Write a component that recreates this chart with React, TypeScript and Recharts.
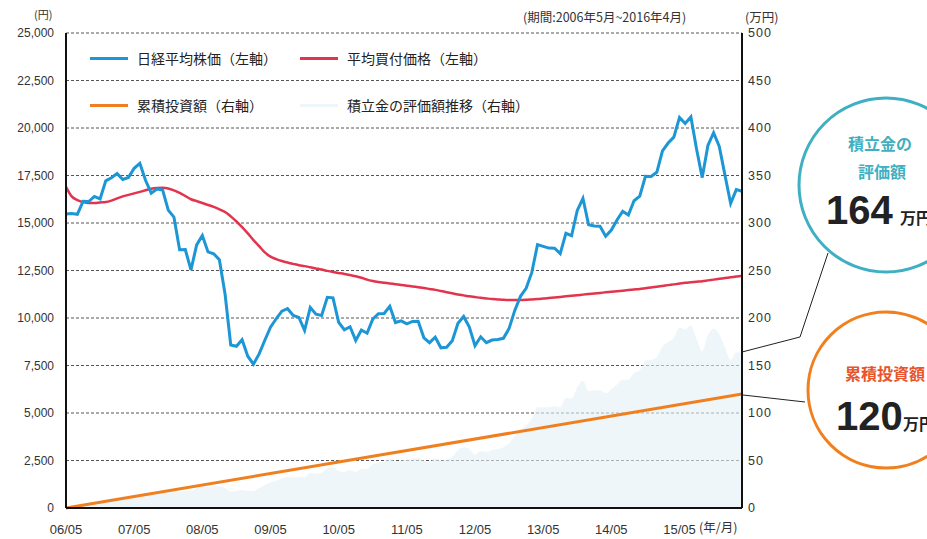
import React from "react";
import { ComposedChart, Line, Area, XAxis, YAxis, CartesianGrid } from "recharts";

// 2006/05 ~ 2016/04, monthly
const months: string[] = [];
for (let y = 6; y <= 16; y++) {
  for (let m = 1; m <= 12; m++) {
    if ((y === 6 && m < 5) || (y === 16 && m > 4)) continue;
    months.push(`${String(y).padStart(2, "0")}/${String(m).padStart(2, "0")}`);
  }
}

const xTicks = ["06/05", "07/05", "08/05", "09/05", "10/05", "11/05", "12/05", "13/05", "14/05", "15/05"];
const leftTicks = [0, 2500, 5000, 7500, 10000, 12500, 15000, 17500, 20000, 22500, 25000];
const rightTicks = [0, 50, 100, 150, 200, 250, 300, 350, 400, 450, 500];

// 日経平均株価 (円)
const nikkei = [
  15470, 15500, 15460, 16140, 16130, 16400, 16270, 17220,
  17380, 17600, 17290, 17400, 17880, 18140, 17250, 16570, 16790, 16740, 15680, 15310,
  13590, 13600, 12530, 13850, 14340, 13480, 13380, 13070, 11260, 8580, 8510, 8860,
  7990, 7570, 8110, 8830, 9520, 9960, 10360, 10490, 10130, 10030, 9350, 10550,
  10200, 10130, 11090, 11060, 9770, 9380, 9540, 8820, 9370, 9200, 9940, 10230,
  10240, 10620, 9760, 9850, 9690, 9820, 9830, 8960, 8700, 8990, 8430, 8460,
  8800, 9720, 10080, 9520, 8540, 9010, 8700, 8840, 8870, 8930, 9450, 10400,
  11140, 11560, 12400, 13860, 13770, 13680, 13670, 13390, 14460, 14330, 15660, 16290,
  14910, 14840, 14830, 14300, 14630, 15160, 15620, 15420, 16170, 16410, 17460, 17450,
  17670, 18800, 19210, 19520, 20560, 20240, 20590, 18890, 17390, 19080, 19750, 19030,
  17520, 16030, 16760, 16670,
];

// 平均買付価格 (円)
const avgPrice = [
  16900, 16400, 16200, 16100, 16050, 16050, 16080, 16100, 16180, 16300, 16400, 16480,
  16560, 16640, 16720, 16800, 16840, 16850, 16820, 16720, 16580, 16420, 16250, 16150,
  16050, 15950, 15850, 15720, 15580, 15350, 15080, 14780, 14450, 14100, 13780, 13450,
  13230, 13100, 13000, 12920, 12850, 12780, 12730, 12670, 12610, 12550, 12480, 12420,
  12370, 12320, 12260, 12200, 12120, 12020, 11950, 11900, 11860, 11820, 11780, 11740,
  11700, 11660, 11620, 11580, 11530, 11480, 11420, 11360, 11300, 11240, 11190, 11140,
  11100, 11060, 11030, 11000, 10980, 10960, 10950, 10950, 10950, 10960, 10980, 11000,
  11020, 11050, 11080, 11110, 11140, 11170, 11200, 11230, 11260, 11290, 11320, 11350,
  11380, 11410, 11440, 11470, 11500, 11530, 11570, 11610, 11650, 11690, 11730, 11770,
  11810, 11850, 11880, 11910, 11940, 11980, 12020, 12060, 12100, 12140, 12180, 12220,
];

// 積立金の評価額 (万円)
const valuation = [
  1, 2, 3, 4, 5, 6, 7, 9, 10, 11, 12, 13,
  14, 15, 16, 16, 17, 18, 18, 18, 17, 18, 18, 21,
  22, 22, 23, 23, 21, 17, 18, 19, 18, 18, 21, 24,
  27, 29, 31, 33, 32, 33, 32, 37, 36, 37, 42, 43,
  39, 38, 40, 38, 41, 41, 46, 48, 49, 52, 49, 50,
  51, 52, 53, 50, 49, 52, 50, 51, 54, 61, 64, 62,
  56, 60, 59, 61, 62, 64, 68, 76, 82, 87, 94, 106,
  106, 106, 107, 106, 116, 115, 127, 134, 123, 124, 124, 121,
  125, 130, 135, 135, 142, 145, 155, 156, 159, 170, 175, 179,
  190, 188, 192, 178, 165, 182, 189, 183, 169, 156, 164, 164,
];

// 累積投資額 (万円): start and end of the period
const investStart = 0;
const investEnd = 120;

const data = months.map((month, i) => ({
  month,
  nikkei: nikkei[i],
  avg: avgPrice[i],
  value: valuation[i],
  invest: i === 0 ? investStart : i === months.length - 1 ? investEnd : null,
}));

const BLUE = "#1d96d6";
const RED = "#e2344c";
const ORANGE = "#f0801f";
const PALE = "#e3f0f6";
const TEAL = "#3fb0c2";
const JP = '"Noto Sans CJK JP", sans-serif';
const NUM = '"Liberation Sans", Arial, sans-serif';

const legendRows = [
  [
    { label: "日経平均株価（左軸）", color: BLUE },
    { label: "平均買付価格（左軸）", color: RED },
  ],
  [
    { label: "累積投資額（右軸）", color: ORANGE },
    { label: "積立金の評価額推移（右軸）", color: "#eef6fa" },
  ],
];

const ChartLegend = () => (
  <div style={{ position: "absolute", left: 90, top: 46, fontFamily: JP, fontSize: 14, color: "#222" }}>
    {legendRows.map((row, r) => (
      <div key={r} style={{ display: "flex", height: 24, alignItems: "center", marginBottom: r === 0 ? 23 : 0 }}>
        {row.map((item, k) => (
          <div key={k} style={{ display: "flex", alignItems: "center", width: k === 0 ? 210 : 260 }}>
            <span style={{ display: "inline-block", width: 38, height: 3, background: item.color, marginRight: 9 }} />
            <span>{item.label}</span>
          </div>
        ))}
      </div>
    ))}
  </div>
);

export default function App() {
  return (
    <div style={{ position: "absolute", left: 0, top: 0, width: 927, height: 539, background: "#fff", overflow: "hidden" }}>
      <ComposedChart width={927} height={539} data={data} margin={{ top: 33, right: 125, bottom: 1, left: 0 }}>
        <CartesianGrid yAxisId="left" vertical={false} stroke="#555" strokeDasharray="3 2" />
        <XAxis
          dataKey="month"
          ticks={xTicks}
          interval={0}
          height={30}
          tickLine={false}
          tickSize={6}
          tickMargin={11}
          axisLine={{ stroke: "#111", strokeWidth: 2 }}
          tick={{ fontSize: 13, fill: "#333", fontFamily: NUM }}
        />
        <YAxis
          yAxisId="left"
          domain={[0, 25000]}
          ticks={leftTicks}
          width={66}
          tickLine={false}
          tickSize={6}
          tickMargin={6}
          axisLine={{ stroke: "#111", strokeWidth: 2 }}
          tickFormatter={(v: number) => v.toLocaleString("en-US")}
          tick={{ fontSize: 12, fill: "#333", fontFamily: NUM }}
        />
        <YAxis
          yAxisId="right"
          orientation="right"
          domain={[0, 500]}
          ticks={rightTicks}
          width={60}
          tickLine={false}
          tickSize={4}
          tickMargin={2}
          axisLine={{ stroke: "#111", strokeWidth: 2 }}
          tick={{ fontSize: 12.5, fill: "#333", fontFamily: NUM, letterSpacing: 1 }}
        />
        <Area
          yAxisId="right"
          dataKey="value"
          type="monotone"
          stroke="none"
          fill={PALE}
          fillOpacity={0.6}
          isAnimationActive={false}
          dot={false}
          activeDot={false}
        />
        <Line
          yAxisId="right"
          dataKey="invest"
          stroke={ORANGE}
          strokeWidth={3}
          connectNulls
          dot={false}
          isAnimationActive={false}
        />
        <Line
          yAxisId="left"
          dataKey="avg"
          type="monotone"
          stroke={RED}
          strokeWidth={2.5}
          dot={false}
          isAnimationActive={false}
        />
        <Line
          yAxisId="left"
          dataKey="nikkei"
          stroke={BLUE}
          strokeWidth={3}
          dot={false}
          isAnimationActive={false}
        />
      </ComposedChart>
      <ChartLegend />
      <svg width={927} height={539} style={{ position: "absolute", left: 0, top: 0, pointerEvents: "none" }}>
        <text x={34} y={19} fontSize={11} fill="#333" fontFamily={JP}>(円)</text>
        <text x={523} y={22} fontSize={12.5} fill="#333" fontFamily={JP}>(期間:2006年5月~2016年4月)</text>
        <text x={745} y={22} fontSize={12.5} fill="#333" fontFamily={JP}>(万円)</text>
        <text x={699} y={532} fontSize={12.5} fill="#333" fontFamily={JP}>(年/月)</text>

        <polyline points="742,352 800,337 828,253" fill="none" stroke="#222" strokeWidth={1} />
        <polyline points="743,395 805,402" fill="none" stroke="#222" strokeWidth={1} />

        <circle cx={886} cy={185} r={87} fill="#fff" stroke={TEAL} strokeWidth={3} />
        <text x={848} y={150} fontSize={16} fontWeight="bold" fill={TEAL} fontFamily={JP}>積立金の</text>
        <text x={858} y={178} fontSize={16} fontWeight="bold" fill={TEAL} fontFamily={JP}>評価額</text>
        <text x={826} y={224} fontSize={40} fontWeight="bold" fill="#222" fontFamily={NUM}>164</text>
        <text x={900} y={224} fontSize={16} fontWeight="bold" fill="#222" fontFamily={JP}>万円</text>

        <circle cx={886} cy={390} r={78} fill="#fff" stroke={ORANGE} strokeWidth={3} />
        <text x={845} y={380} fontSize={16} fontWeight="bold" fill="#e8552a" fontFamily={JP}>累積投資額</text>
        <text x={836} y={430} fontSize={40} fontWeight="bold" fill="#222" fontFamily={NUM}>120</text>
        <text x={903} y={430} fontSize={16} fontWeight="bold" fill="#222" fontFamily={JP}>万円</text>
      </svg>
    </div>
  );
}
